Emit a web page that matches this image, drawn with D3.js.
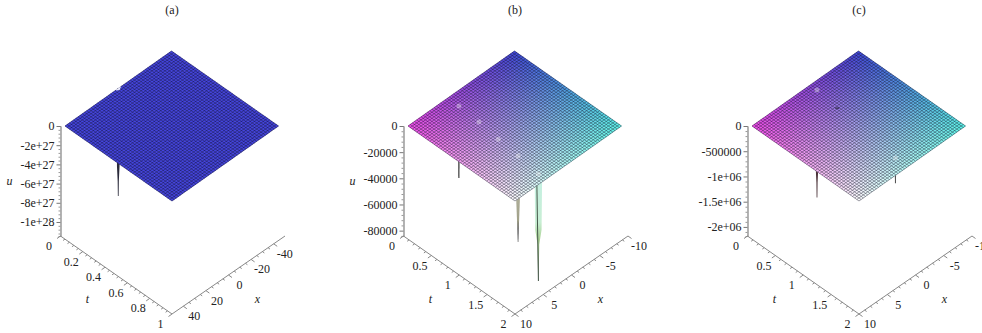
<!DOCTYPE html>
<html>
<head>
<meta charset="utf-8">
<script src="https://cdn.jsdelivr.net/npm/d3@7"></script>
<style>
  html, body { margin: 0; padding: 0; background: #fff; overflow: hidden; }
  text { font-family: "Liberation Serif", serif; font-size: 12px; fill: #222; }
</style>
</head>
<body>
<div id="chart"></div>
<script>
// values
var titles = ["(a)", "(b)", "(c)"];

var aTTicks = [0, 0.2, 0.4, 0.6, 0.8, 1];
var aTLabels = ["0", "0.2", "0.4", "0.6", "0.8", "1"];
var aXTicks = [40, 20, 0, -20, -40];
var aXLabels = ["40", "20", "0", "-20", "-40"];
var aUTicks = [0, -2e27, -4e27, -6e27, -8e27, -1e28];
var aULabels = ["0", "-2e+27", "-4e+27", "-6e+27", "-8e+27", "-1e+28"];
var aSpikeT = [0];
var aSpikeX = [0];
var aSpikeU = [-1.12e28];
var aDotT = [];
var aDotX = [];
var aNotchT = [0, 0, 0.0145];
var aNotchX = [2.1, -2.1, 0.3];

var bTTicks = [0, 0.5, 1, 1.5, 2];
var bTLabels = ["0", "0.5", "1", "1.5", "2"];
var bXTicks = [10, 5, 0, -5, -10];
var bXLabels = ["10", "5", "0", "-5", "-10"];
var bUTicks = [0, -20000, -40000, -60000, -80000];
var bULabels = ["0", "-20000", "-40000", "-60000", "-80000"];
var bSpikeT = [0.21, 1.43, 1.86];
var bSpikeX = [2.55, 3.7, 4.2];
var bSpikeU = [-55000, -65800, -81800];
var bDotT = [0.21, 0.61, 1.02, 1.43, 1.86];
var bDotX = [2.55, 2.8, 3.3, 3.7, 4.2];

var cTTicks = [0, 0.5, 1, 1.5, 2];
var cTLabels = ["0", "0.5", "1", "1.5", "2"];
var cXTicks = [10, 5, 0, -5, -10];
var cXLabels = ["10", "5", "0", "-5", "-10"];
var cUTicks = [0, -500000, -1e6, -1.5e6, -2e6];
var cULabels = ["0", "-500000", "-1e+06", "-1.5e+06", "-2e+06"];
var cSpikeT = [0.13, 1.77];
var cSpikeX = [-0.9, 0.84];
var cSpikeU = [-2.13e6, -0.5e6];
var cDotT = [0.13, 1.77];
var cDotX = [-0.9, 0.84];
var cDashT = [0.56];
var cDashX = [-0.38];

// corner colours of the surface: top, left, right, bottom
var plainColors = ["#4444dc", "#4444dc", "#4444dc", "#4444dc"];
var shadedColors = ["#4048d8", "#f04ce8", "#5cf4e8", "#ffffff"];

// width of a spike down its length, as [share of length, share of width]
var wedge = [[0, 1], [1, 0.06]];
var needle = [[0, 1], [1, 0.75]];
var taper = [[0, 1], [0.72, 1], [0.86, 0.45], [1, 0.3]];
var column = [[0, 1], [0.52, 0.85], [0.66, 0.22], [1, 0.06]];

var panels = [
  {title: titles[0], left: 65, axisX: 60.5, tMax: 1, xMax: 50, uMin: -1.146e28, tTicks: aTTicks, tLabels: aTLabels,
   xTicks: aXTicks, xLabels: aXLabels, uTicks: aUTicks, uLabels: aULabels, spikeT: aSpikeT, spikeX: aSpikeX, spikeU: aSpikeU,
   dotT: aDotT, dotX: aDotX, notchT: aNotchT, notchX: aNotchX, dashT: [], dashX: [], colors: plainColors, showU: true,
   spikeWidth: [2.6], spikeFill: ["#2a2a3a"], spikeProfile: [taper], minorX: 4},
  {title: titles[1], left: 408, axisX: 403.5, tMax: 2, xMax: 10, uMin: -84100, tTicks: bTTicks, tLabels: bTLabels,
   xTicks: bXTicks, xLabels: bXLabels, uTicks: bUTicks, uLabels: bULabels, spikeT: bSpikeT, spikeX: bSpikeX, spikeU: bSpikeU,
   dotT: bDotT, dotX: bDotX, notchT: [], notchX: [], dashT: [], dashX: [], colors: shadedColors, showU: true,
   spikeWidth: [1.3, 7, 7.5], spikeFill: ["#111", "url(#spikeGrey)", "url(#spikeGreen)"], spikeProfile: [needle, wedge, column], minorX: 5},
  {title: titles[2], left: 752, axisX: 747.5, tMax: 2, xMax: 10, uMin: -2.18e6, tTicks: cTTicks, tLabels: cTLabels,
   xTicks: cXTicks, xLabels: cXLabels, uTicks: cUTicks, uLabels: cULabels, spikeT: cSpikeT, spikeX: cSpikeX, spikeU: cSpikeU,
   dotT: cDotT, dotX: cDotX, notchT: [], notchX: [], dashT: cDashT, dashX: cDashX, colors: shadedColors, showU: false,
   spikeWidth: [2.6, 1.4], spikeFill: ["#4a3238", "#555"], spikeProfile: [taper, needle], minorX: 5}
];

var width = 982;
var height = 333;
var baseY = 126;
var cells = 49;
var minorT = 5;
var minorU = 5;

var svg = d3.select("#chart").append("svg")
  .attr("width", width)
  .attr("height", height)
  .style("display", "block");

var defs = svg.append("defs");
function addGradient(id, stops) {
  var g = defs.append("linearGradient").attr("id", id).attr("x1", 0).attr("y1", 0).attr("x2", 0).attr("y2", 1);
  stops.forEach(function(s) {
    g.append("stop").attr("offset", s[0]).attr("stop-color", s[1]);
  });
}
addGradient("spikeGreen", [[0, "#c4f0e4"], [0.45, "#c8eed4"], [0.62, "#a8d090"], [1, "#50604c"]]);
addGradient("spikeGrey", [[0, "#c8c8b8"], [0.75, "#a0a088"], [0.85, "#555"], [1, "#111"]]);
defs.append("filter").attr("id", "soft")
  .append("feGaussianBlur").attr("stdDeviation", 0.3);

panels.forEach(function(p) {
  var g = svg.append("g");
  var tScale = d3.scaleLinear().domain([0, p.tMax]).range([0, 1]);
  var xScale = d3.scaleLinear().domain([p.xMax, -p.xMax]).range([0, 1]);
  var uScale = d3.scaleLinear().domain([0, p.uMin]).range([0, 110]);

  function project(t, x, u) {
    var a = tScale(t), b = xScale(x);
    return [p.left + 107 * a + 106.5 * b, baseY + 75 * a - 75 * b + uScale(u || 0)];
  }

  // u axis
  var uMinor = [];
  p.uTicks.forEach(function(v, i) {
    var next = i + 1 < p.uTicks.length ? p.uTicks[i + 1] : v + (v - p.uTicks[i - 1]);
    for (var k = 1; k < minorU; k++) {
      var m = v + (next - v) * k / minorU;
      if (m >= p.uMin) uMinor.push(m);
    }
  });
  var uPos = d3.scaleLinear().domain(uScale.domain()).range([baseY, baseY + 110]);
  var uAxis = g.append("g").attr("transform", "translate(" + p.axisX + ",0)");
  uAxis.call(d3.axisLeft(uPos).tickValues(uMinor).tickSize(2).tickFormat(""))
    .call(function(s) { s.selectAll("path,line").attr("stroke", "#999"); });
  uAxis.append("g")
    .call(d3.axisLeft(uPos).tickValues(p.uTicks).tickSize(4).tickSizeOuter(0).tickPadding(2)
      .tickFormat(function(d, i) { return p.uLabels[i]; }))
    .call(function(s) {
      s.attr("font-size", null).attr("font-family", null);
      s.select(".domain").attr("stroke", "#999");
      s.selectAll("line").attr("stroke", "#777");
      s.selectAll("text").attr("fill", null);
    });

  // t and x axes run along the floor of the box
  var floorA = [p.axisX, baseY + 110];
  var floorB = [p.axisX + 111.5, baseY + 188];
  var floorC = [p.axisX + 224.5, baseY + 110];
  var line = d3.line();

  g.append("path").attr("d", line([floorA, floorB, floorC]))
    .attr("fill", "none").attr("stroke", "#888");

  function onT(v) {
    var k = tScale(v);
    return [floorA[0] + (floorB[0] - floorA[0]) * k, floorA[1] + (floorB[1] - floorA[1]) * k];
  }
  function onX(v) {
    var k = xScale(v);
    return [floorB[0] + (floorC[0] - floorB[0]) * k, floorB[1] + (floorC[1] - floorB[1]) * k];
  }
  function ticksFor(values, minor, along, dx, dy) {
    var out = [];
    values.forEach(function(v, i) {
      out.push({pos: along(v), len: 1});
      if (i + 1 < values.length) {
        for (var k = 1; k < minor; k++) {
          out.push({pos: along(v + (values[i + 1] - v) * k / minor), len: 0.55});
        }
      }
    });
    g.selectAll(null).data(out).enter().append("line")
      .attr("x1", function(d) { return d.pos[0]; })
      .attr("y1", function(d) { return d.pos[1]; })
      .attr("x2", function(d) { return d.pos[0] + dx * d.len; })
      .attr("y2", function(d) { return d.pos[1] + dy * d.len; })
      .attr("stroke", "#888");
  }
  ticksFor(p.tTicks, minorT, onT, -3.5, 2.5);
  ticksFor(p.xTicks, p.minorX, onX, 3.5, 2.5);

  g.selectAll(null).data(p.tTicks).enter().append("text")
    .attr("x", function(d) { return onT(d)[0] - 11.5; })
    .attr("y", function(d) { return onT(d)[1] + 14; })
    .attr("text-anchor", "middle")
    .text(function(d, i) { return p.tLabels[i]; });
  g.selectAll(null).data(p.xTicks).enter().append("text")
    .attr("x", function(d) { return onX(d)[0] + 11; })
    .attr("y", function(d) { return onX(d)[1] + 14; })
    .attr("text-anchor", "middle")
    .text(function(d, i) { return p.xLabels[i]; });

  // spikes go first, the surface hides the part behind it
  p.spikeT.forEach(function(t, i) {
    var top = project(t, p.spikeX[i], 0);
    var tip = project(t, p.spikeX[i], p.spikeU[i]);
    var w = p.spikeWidth[i] / 2;
    var profile = p.spikeProfile[i];
    var right = profile.map(function(s) { return [top[0] + w * s[1], top[1] + (tip[1] - top[1]) * s[0]]; });
    var left = profile.map(function(s) { return [top[0] - w * s[1], top[1] + (tip[1] - top[1]) * s[0]]; }).reverse();
    g.append("path").attr("d", line(right.concat(left)) + "Z").attr("fill", p.spikeFill[i]);
    if (profile === column) {
      g.append("path")
        .attr("d", line([[top[0] - w * 0.45, top[1]], [tip[0], tip[1]]]))
        .attr("stroke", "#46584a").attr("stroke-width", 1).attr("fill", "none");
    }
  });

  // surface cells, on a solid backing so nothing shows through the seams
  var tEdges = d3.range(cells + 1).map(function(i) { return p.tMax * i / cells; });
  var xEdges = d3.range(cells + 1).map(function(i) { return p.xMax - 2 * p.xMax * i / cells; });
  var topToRight = d3.interpolateRgb(p.colors[0], p.colors[2]);
  var leftToBottom = d3.interpolateRgb(p.colors[1], p.colors[3]);
  var surface = g.append("g").attr("filter", "url(#soft)");
  surface.append("path")
    .attr("d", line([project(0, p.xMax), project(p.tMax, p.xMax), project(p.tMax, -p.xMax), project(0, -p.xMax)]) + "Z")
    .attr("fill", "#777");
  d3.range(cells).forEach(function(i) {
    d3.range(cells).forEach(function(j) {
      var a = (i + 0.5) / cells, b = (j + 0.5) / cells;
      // a along t, b along x: left=(0,0) bottom=(1,0) right=(1,1) top=(0,1)
      var color = d3.interpolateRgb(leftToBottom(a), topToRight(a))(b);
      surface.append("path")
        .attr("d", line([
          project(tEdges[i], xEdges[j]), project(tEdges[i + 1], xEdges[j]),
          project(tEdges[i + 1], xEdges[j + 1]), project(tEdges[i], xEdges[j + 1])
        ]) + "Z")
        .attr("fill", color)
        .attr("stroke", color)
        .attr("stroke-width", 0.3);
    });
  });

  // mesh lines
  var mesh = d3.path();
  tEdges.forEach(function(t) {
    var s = project(t, xEdges[0]), e = project(t, xEdges[cells]);
    mesh.moveTo(s[0], s[1]); mesh.lineTo(e[0], e[1]);
  });
  xEdges.forEach(function(x) {
    var s = project(tEdges[0], x), e = project(tEdges[cells], x);
    mesh.moveTo(s[0], s[1]); mesh.lineTo(e[0], e[1]);
  });
  surface.append("path").attr("d", mesh.toString())
    .attr("fill", "none").attr("stroke", "#000018").attr("stroke-width", 0.5).attr("stroke-opacity", 0.65);

  // notch in the rim above a spike
  if (p.notchT.length) {
    g.append("path")
      .attr("d", line(p.notchT.map(function(t, i) { return project(t, p.notchX[i]); })) + "Z")
      .attr("fill", "#fff").attr("stroke", "#fff").attr("stroke-width", 0.5);
  }

  // pale spots on the surface where the spikes start
  g.selectAll(null).data(p.dotT).enter().append("circle")
    .attr("cx", function(d, i) { return project(d, p.dotX[i])[0]; })
    .attr("cy", function(d, i) { return project(d, p.dotX[i])[1]; })
    .attr("r", 2.5)
    .attr("fill", "#fff")
    .attr("fill-opacity", 0.35);

  g.selectAll(null).data(p.dashT).enter().append("line")
    .attr("x1", function(d, i) { return project(d, p.dashX[i])[0] - 2; })
    .attr("x2", function(d, i) { return project(d, p.dashX[i])[0] + 2; })
    .attr("y1", function(d, i) { return project(d, p.dashX[i])[1]; })
    .attr("y2", function(d, i) { return project(d, p.dashX[i])[1]; })
    .attr("stroke", "#223");

  // titles and axis letters
  g.append("text").attr("x", p.left + 107).attr("y", 14).attr("text-anchor", "middle").text(p.title);
  g.append("text").attr("x", p.axisX + 27).attr("y", 303).attr("text-anchor", "middle").attr("font-style", "italic").text("t");
  g.append("text").attr("x", p.axisX + 197).attr("y", 303).attr("text-anchor", "middle").attr("font-style", "italic").text("x");
  if (p.showU) {
    g.append("text").attr("x", p.axisX - 51).attr("y", 185).attr("text-anchor", "middle").attr("font-style", "italic").text("u");
  }
});
</script>
</body>
</html>
